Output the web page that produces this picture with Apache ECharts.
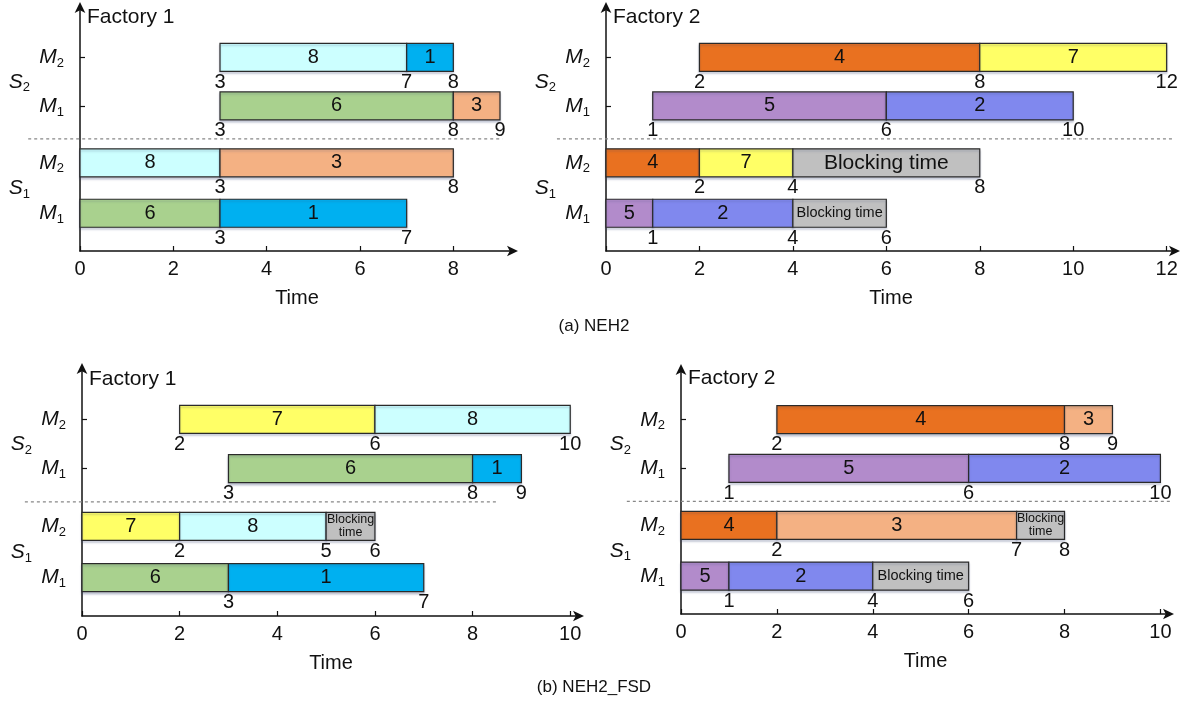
<!DOCTYPE html>
<html>
<head>
<meta charset="utf-8">
<title>NEH2 vs NEH2_FSD</title>
<script src="https://cdn.jsdelivr.net/npm/echarts@6/dist/echarts.min.js"></script>
<style>
  * { margin: 0; padding: 0; }
  body { background: #fff; }
  #chart { width: 1188px; height: 704px; }
</style>
</head>
<body>
<div id="chart"></div>
<script>
// rows top to bottom: S2-M2, S2-M1, S1-M2, S1-M1
var machineNames = ['2', '1', '2', '1'];
var stageNames = ['2', '1'];

// [row, job, start, end]   job 'B' = blocking time
var neh2Factory1 = [
  [0, 8, 3, 7], [0, 1, 7, 8],
  [1, 6, 3, 8], [1, 3, 8, 9],
  [2, 8, 0, 3], [2, 3, 3, 8],
  [3, 6, 0, 3], [3, 1, 3, 7]
];
var neh2Factory2 = [
  [0, 4, 2, 8], [0, 7, 8, 12],
  [1, 5, 1, 6], [1, 2, 6, 10],
  [2, 4, 0, 2], [2, 7, 2, 4], [2, 'B', 4, 8],
  [3, 5, 0, 1], [3, 2, 1, 4], [3, 'B', 4, 6]
];
var fsdFactory1 = [
  [0, 7, 2, 6], [0, 8, 6, 10],
  [1, 6, 3, 8], [1, 1, 8, 9],
  [2, 7, 0, 2], [2, 8, 2, 5], [2, 'B', 5, 6],
  [3, 6, 0, 3], [3, 1, 3, 7]
];
var fsdFactory2 = [
  [0, 4, 2, 8], [0, 3, 8, 9],
  [1, 5, 1, 6], [1, 2, 6, 10],
  [2, 4, 0, 2], [2, 3, 2, 7], [2, 'B', 7, 8],
  [3, 5, 0, 1], [3, 2, 1, 4], [3, 'B', 4, 6]
];

var ticks8 = [0, 2, 4, 6, 8];
var ticks10 = [0, 2, 4, 6, 8, 10];
var ticks12 = [0, 2, 4, 6, 8, 10, 12];

var jobColors = {
  1: '#00B0F0', 2: '#8088EE', 3: '#F4B183', 4: '#E97120',
  5: '#B28BCB', 6: '#A9D18E', 7: '#FFFF66', 8: '#CCFFFF', B: '#C0C0C0'
};

// layout (value units of the y axis, 0..100)
var rowY = [79, 59.2, 36, 15.4];
var stageY = [69.1, 25.7];
var dashY = 45.8;
var barPx = 28;
var FONT = 'Liberation Sans, Arial, sans-serif';

var panels = [
  { data: neh2Factory1, ticks: ticks8, max: 9.3, left: 80, top: 6, width: 434, height: 245,
    title: 'Factory 1', tx: 87, ty: 7, dash: [-1.11, 9.05] },
  { data: neh2Factory2, ticks: ticks12, max: 12.2, left: 606, top: 6, width: 570, height: 245,
    title: 'Factory 2', tx: 613, ty: 7, dash: [-1.05, 12.13] },
  { data: fsdFactory1, ticks: ticks10, max: 10.2, left: 82, top: 367, width: 498, height: 249,
    title: 'Factory 1', tx: 89, ty: 369, dash: [-1.17, 8.52] },
  { data: fsdFactory2, ticks: ticks10, max: 10.2, left: 681, top: 368, width: 489, height: 246,
    title: 'Factory 2', tx: 688, ty: 368, dash: [-1.13, 10.25] }
];

function boundaryPoints(data) {
  var seen = {}, out = [];
  data.forEach(function (d) {
    [d[2], d[3]].forEach(function (t) {
      var k = d[0] + '_' + t;
      if (t !== 0 && !seen[k]) { seen[k] = 1; out.push([t, d[0]]); }
    });
  });
  return out;
}

var grids = [], xAxes = [], yAxes = [], series = [], titles = [];

panels.forEach(function (p, i) {
  grids.push({ left: p.left, top: p.top, width: p.width, height: p.height });
  titles.push({ text: p.title, left: p.tx, top: p.ty, padding: 0,
    textStyle: { fontSize: 21, fontWeight: 'normal', color: '#111', fontFamily: FONT } });

  xAxes.push({
    type: 'value', gridIndex: i, min: 0, max: p.max,
    axisLine: { show: true, symbol: ['none', 'arrow'], symbolSize: [8, 11], symbolOffset: [0, 4],
      lineStyle: { color: '#111', width: 1.5 } },
    axisTick: { show: true, inside: true, length: 5, customValues: p.ticks, lineStyle: { color: '#111', width: 1.2 } },
    axisLabel: { customValues: p.ticks, margin: 8, fontSize: 20, color: '#111', fontFamily: FONT },
    splitLine: { show: false },
    name: 'Time', nameLocation: 'middle', nameGap: 37,
    nameTextStyle: { fontSize: 20, color: '#111', fontFamily: FONT }
  });

  yAxes.push({
    type: 'value', gridIndex: i, min: 0, max: 100, position: 'left',
    axisLine: { show: true, symbol: ['none', 'arrow'], symbolSize: [8, 11], symbolOffset: [0, 4],
      lineStyle: { color: '#111', width: 1.5 } },
    axisTick: { show: true, inside: true, length: 5, customValues: rowY, lineStyle: { color: '#111', width: 1.2 } },
    axisLabel: {
      customValues: rowY, margin: 16,
      formatter: function (v) { return '{i|M}{s|' + machineNames[rowY.indexOf(v)] + '}'; },
      rich: {
        i: { fontStyle: 'italic', fontSize: 21, color: '#111', fontFamily: FONT },
        s: { fontSize: 13, color: '#111', fontFamily: FONT, padding: [12, 0, 0, 0] }
      }
    },
    splitLine: { show: false }
  });
  yAxes.push({
    type: 'value', gridIndex: i, min: 0, max: 100, position: 'left',
    axisLine: { show: false }, axisTick: { show: false }, splitLine: { show: false },
    axisLabel: {
      customValues: stageY, margin: 50,
      formatter: function (v) { return '{i|S}{s|' + stageNames[stageY.indexOf(v)] + '}'; },
      rich: {
        i: { fontStyle: 'italic', fontSize: 21, color: '#111', fontFamily: FONT },
        s: { fontSize: 13, color: '#111', fontFamily: FONT, padding: [12, 0, 0, 0] }
      }
    }
  });

  var yIdx = i * 2;

  // dashed separator between the two stages
  series.push({
    type: 'custom', xAxisIndex: i, yAxisIndex: yIdx, clip: false, silent: true,
    data: [[p.dash[0], p.dash[1], dashY]],
    renderItem: function (params, api) {
      var a = api.coord([api.value(0), api.value(2)]);
      var b = api.coord([api.value(1), api.value(2)]);
      return { type: 'line', shape: { x1: a[0], y1: a[1], x2: b[0], y2: b[1] },
        style: { stroke: '#888', lineWidth: 1.2, lineDash: [3, 3] } };
    }
  });

  // operation bars
  series.push({
    type: 'custom', xAxisIndex: i, yAxisIndex: yIdx, clip: false,
    data: p.data.map(function (d) { return [d[0], 0, d[2], d[3]]; }),
    renderItem: function (params, api) {
      var d = p.data[params.dataIndex];
      var a = api.coord([d[2], rowY[d[0]]]);
      var b = api.coord([d[3], rowY[d[0]]]);
      var w = b[0] - a[0];
      var txt = String(d[1]), fs = 20, lh = 20;
      if (d[1] === 'B') {
        if (w > 150) { txt = 'Blocking time'; fs = 21; }
        else if (w > 70) { txt = 'Blocking time'; fs = 14.5; }
        else { txt = 'Blocking\ntime'; fs = 12.5; lh = 13; }
      }
      return {
        type: 'rect',
        shape: { x: a[0], y: a[1] - barPx / 2, width: w, height: barPx },
        style: { fill: jobColors[d[1]], stroke: '#2a2a2a', lineWidth: 1.2,
          shadowColor: 'rgba(60,70,120,0.25)', shadowOffsetY: 2, shadowBlur: 2 },
        textContent: { style: { text: txt, fontSize: fs, lineHeight: lh, fill: '#111', fontFamily: FONT,
          align: 'center', verticalAlign: 'middle' } },
        textConfig: { position: 'inside' }
      };
    }
  });

  // time labels under bar boundaries
  series.push({
    type: 'custom', xAxisIndex: i, yAxisIndex: yIdx, clip: false, silent: true,
    data: boundaryPoints(p.data),
    renderItem: function (params, api) {
      var c = api.coord([api.value(0), rowY[api.value(1)]]);
      return { type: 'text', x: c[0], y: c[1] + barPx / 2 + 11,
        style: { text: String(api.value(0)), fontSize: 20, fill: '#111', fontFamily: FONT,
          align: 'center', verticalAlign: 'middle' } };
    }
  });
});

titles.push({ text: '(a) NEH2', left: 'center', top: 318, padding: 0,
  textStyle: { fontSize: 17, fontWeight: 'normal', color: '#111', fontFamily: FONT } });
titles.push({ text: '(b) NEH2_FSD', left: 'center', top: 679, padding: 0,
  textStyle: { fontSize: 17, fontWeight: 'normal', color: '#111', fontFamily: FONT } });

var chart = echarts.init(document.getElementById('chart'), null, { renderer: 'canvas' });
chart.setOption({
  animation: false,
  backgroundColor: '#fff',
  title: titles,
  grid: grids,
  xAxis: xAxes,
  yAxis: yAxes,
  series: series
});
</script>
</body>
</html>
